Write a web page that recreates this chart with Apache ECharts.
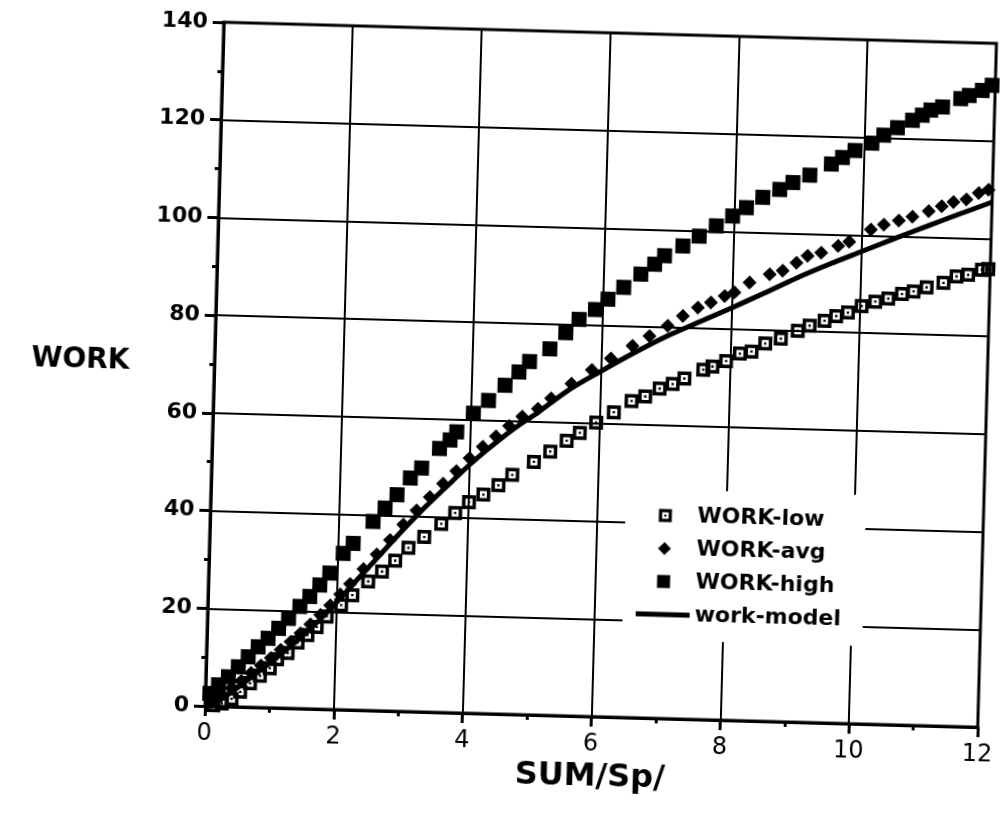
<!DOCTYPE html>
<html><head><meta charset="utf-8">
<script src="https://cdn.jsdelivr.net/npm/echarts@6/dist/echarts.min.js"></script>
<style>
html,body{margin:0;padding:0;background:#fff;overflow:hidden;}
#chart{width:1000px;height:821px;transform:rotate(1.57deg);transform-origin:205px 706px;}
</style>
</head><body><div id="chart"></div>
<script>
// ---- data ----
const xTicks = [0, 2, 4, 6, 8, 10, 12];
const yTicks = [0, 20, 40, 60, 80, 100, 120, 140];

const lowX = [0.13,0.26,0.41,0.54,0.69,0.84,0.99,1.10,1.26,1.41,1.56,1.70,1.85,2.07,2.24,2.48,2.69,2.89,3.09,3.33,3.59,3.80,4.01,4.23,4.46,4.67,5.00,5.25,5.50,5.70,5.95,6.22,6.49,6.70,6.92,7.12,7.30,7.59,7.73,7.94,8.15,8.33,8.54,8.78,9.04,9.22,9.45,9.63,9.81,10.02,10.23,10.43,10.64,10.82,11.02,11.28,11.48,11.66,11.87,11.97];
const lowY = [0.2,0.6,1.6,3.1,4.9,6.5,8.1,10.0,11.3,13.5,15.1,16.8,19.0,21.4,23.5,26.4,28.5,30.8,33.5,35.8,38.6,40.9,43.2,44.8,46.8,49.0,51.8,54.0,56.3,58.0,60.2,62.4,64.8,65.8,67.5,68.5,69.7,71.6,72.3,73.5,75.1,75.6,77.3,78.4,80.1,81.2,82.3,83.3,84.1,85.5,86.5,87.2,88.2,88.8,89.7,90.7,92.1,92.5,93.6,93.8];

const avgX = [0.10,0.25,0.40,0.55,0.70,0.85,1.00,1.15,1.30,1.45,1.60,1.75,1.90,2.05,2.20,2.40,2.60,2.80,3.00,3.20,3.40,3.60,3.80,4.00,4.20,4.40,4.60,4.80,5.04,5.24,5.55,5.86,6.15,6.48,6.74,7.02,7.25,7.48,7.68,7.89,8.04,8.27,8.58,8.78,8.99,9.16,9.37,9.63,9.80,10.13,10.33,10.56,10.77,11.02,11.22,11.40,11.60,11.79,11.94];
const avgY = [0.8,2.2,3.8,5.3,7.0,8.6,10.2,11.9,13.6,15.4,17.3,19.3,21.3,23.6,25.8,28.9,32.0,35.0,38.2,41.2,44.0,46.8,49.5,52.2,54.6,56.8,59.0,61.0,62.7,64.9,68.0,70.9,73.4,76.1,78.2,80.4,82.5,84.3,85.4,86.8,87.6,89.7,91.5,92.3,94.0,95.5,96.2,97.7,98.6,101.2,102.3,103.2,104.1,105.3,106.4,107.3,107.9,109.3,110.0];

const highX = [0.07,0.20,0.35,0.50,0.65,0.80,0.95,1.11,1.26,1.43,1.58,1.73,1.88,2.08,2.23,2.53,2.71,2.89,3.09,3.26,3.53,3.69,3.79,4.04,4.27,4.52,4.73,4.89,5.20,5.44,5.64,5.89,6.08,6.32,6.58,6.79,6.94,7.22,7.47,7.73,7.98,8.19,8.44,8.70,8.90,9.16,9.49,9.66,9.85,10.11,10.29,10.50,10.73,10.88,11.01,11.19,11.47,11.60,11.80,11.95];
const highY = [2.6,4.4,6.1,8.2,10.3,12.4,14.2,16.3,18.4,20.9,23.0,25.4,27.9,32.0,34.1,38.7,41.5,44.3,47.8,49.9,54.0,55.8,57.5,61.4,64.1,67.3,70.1,72.3,75.0,78.4,81.2,83.3,85.5,88.0,90.8,92.9,94.7,96.8,98.9,101.1,103.2,105.0,107.2,108.9,110.4,112.0,114.4,115.8,117.3,118.9,120.6,122.2,123.8,124.9,126.0,126.7,128.5,129.2,130.3,131.4];

const modelX = [0,0.25,0.5,0.75,1,1.25,1.5,1.75,2,2.25,2.5,2.75,3,3.25,3.5,3.75,4,4.25,4.5,4.75,5,5.5,6,6.5,7,7.5,8,8.5,9,9.5,10,10.5,11,11.5,12];
const modelY = [0,1.5,4.0,6.6,9.3,12.1,15.1,18.4,22.0,25.8,29.6,33.4,37.2,40.8,44.2,47.5,50.8,53.8,56.6,59.2,61.5,66.6,70.7,74.6,78.2,81.3,84.4,87.6,90.9,93.9,96.7,99.5,102.2,104.9,107.5];

const seriesNames = ['WORK-low', 'WORK-avg', 'WORK-high', 'work-model'];
const xTitle = 'SUM/Sp/';
const yTitle = 'WORK';

// ---- build ----
const zip = (xs, ys) => xs.map((x, i) => [x, ys[i]]);
const lowSymbol = 'path://M0,0L12,0L12,12L0,12Z M3,3L3,9L9,9L9,3Z M5,5L7,5L7,7L5,7Z';
const squareSymbol = 'path://M0,0L10,0L10,10L0,10Z';
const diamondSymbol = 'path://M5,0L10,5L5,10L0,5Z';
const lineIcon = 'path://M0,0L54,0L54,5L0,5Z';
const font = '"DejaVu Sans", Verdana, sans-serif';

const chart = echarts.init(document.getElementById('chart'), null, {renderer: 'canvas'});
chart.setOption({
  animation: false,
  backgroundColor: '#fff',
  grid: {left: 205, right: 22, top: 22, bottom: 115, show: true, borderColor: '#000', borderWidth: 3, backgroundColor: 'transparent'},
  xAxis: {
    type: 'value', min: xTicks[0], max: xTicks[xTicks.length - 1], interval: 2,
    name: xTitle, nameLocation: 'middle', nameGap: 42,
    nameTextStyle: {fontFamily: font, fontSize: 32, fontWeight: 'bold', color: '#000'},
    axisLine: {lineStyle: {color: '#000', width: 3}},
    axisTick: {show: true, length: 10, lineStyle: {color: '#000', width: 3}},
    minorTick: {show: true, splitNumber: 2, length: 5, lineStyle: {color: '#000', width: 3}},
    splitLine: {show: true, lineStyle: {color: '#000', width: 2}},
    axisLabel: {fontFamily: font, fontSize: 24, color: '#000', margin: 16,
      formatter: v => xTicks.includes(v) ? String(v) : ''}
  },
  yAxis: {
    type: 'value', min: yTicks[0], max: yTicks[yTicks.length - 1], interval: 20,
    name: yTitle, nameLocation: 'middle', nameGap: 85, nameRotate: 0,
    nameTextStyle: {fontFamily: font, fontSize: 28, fontWeight: 'bold', color: '#000', padding: [0, 0, 20, 0]},
    axisLine: {lineStyle: {color: '#000', width: 3}},
    axisTick: {show: true, length: 11, lineStyle: {color: '#000', width: 3}},
    minorTick: {show: true, splitNumber: 2, length: 5, lineStyle: {color: '#000', width: 3}},
    splitLine: {show: true, lineStyle: {color: '#000', width: 2}},
    axisLabel: {fontFamily: font, fontSize: 22, fontWeight: 'bold', color: '#000', margin: 16,
      formatter: v => yTicks.includes(v) ? String(v) : ''}
  },
  legend: {
    orient: 'vertical', left: 620, top: 477,
    backgroundColor: '#fff', padding: [14, 22, 14, 13],
    itemWidth: 54, itemHeight: 13, itemGap: 9, symbolKeepAspect: true,
    textStyle: {fontFamily: font, fontSize: 22, fontWeight: 'bold', color: '#000', lineHeight: 24},
    data: [
      {name: seriesNames[0], icon: lowSymbol},
      {name: seriesNames[1], icon: diamondSymbol},
      {name: seriesNames[2], icon: squareSymbol},
      {name: seriesNames[3], icon: lineIcon}
    ]
  },
  series: [
    {name: seriesNames[0], type: 'scatter', data: zip(lowX, lowY), symbol: lowSymbol, symbolSize: 14,
     itemStyle: {color: '#000', opacity: 1}, z: 3},
    {name: seriesNames[1], type: 'scatter', data: zip(avgX, avgY), symbol: diamondSymbol, symbolSize: 14,
     itemStyle: {color: '#000', opacity: 1}, z: 3},
    {name: seriesNames[2], type: 'scatter', data: zip(highX, highY), symbol: squareSymbol, symbolSize: 15,
     itemStyle: {color: '#000', opacity: 1}, z: 3},
    {name: seriesNames[3], type: 'line', data: zip(modelX, modelY), symbol: 'none', smooth: 0.3,
     lineStyle: {color: '#000', width: 5}, itemStyle: {color: '#000'}, z: 4}
  ]
});
</script>
</body></html>
